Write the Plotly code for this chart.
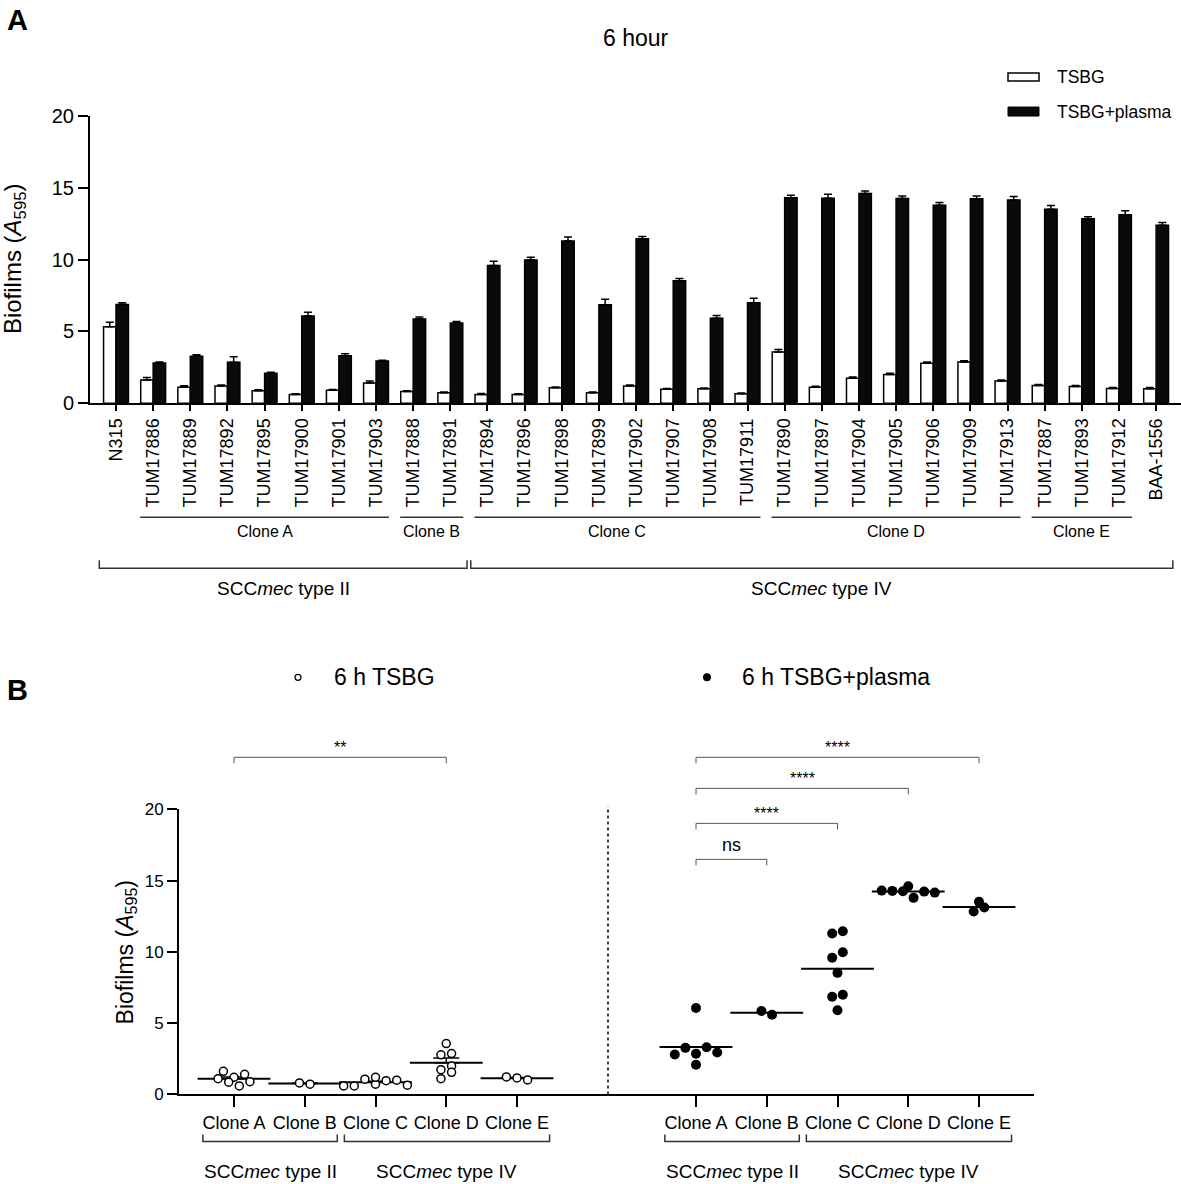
import numpy as np
import plotly.graph_objects as go

# ---------------- data ----------------
strains = ["N315", "TUM17886", "TUM17889", "TUM17892", "TUM17895", "TUM17900", "TUM17901",
           "TUM17903", "TUM17888", "TUM17891", "TUM17894", "TUM17896", "TUM17898", "TUM17899",
           "TUM17902", "TUM17907", "TUM17908", "TUM17911", "TUM17890", "TUM17897", "TUM17904",
           "TUM17905", "TUM17906", "TUM17909", "TUM17913", "TUM17887", "TUM17893", "TUM17912",
           "BAA-1556"]
strain_clone = ["", "Clone A", "Clone A", "Clone A", "Clone A", "Clone A", "Clone A",
                "Clone A", "Clone B", "Clone B", "Clone C", "Clone C", "Clone C", "Clone C",
                "Clone C", "Clone C", "Clone C", "Clone C", "Clone D", "Clone D", "Clone D",
                "Clone D", "Clone D", "Clone D", "Clone D", "Clone E", "Clone E", "Clone E", ""]
strain_scc = ["SCCmec type II"] * 10 + ["SCCmec type IV"] * 19

tsbg = [5.33, 1.62, 1.11, 1.20, 0.86, 0.60, 0.90, 1.41, 0.81, 0.72,
        0.60, 0.60, 1.07, 0.72, 1.20, 0.97, 1.00, 0.65,
        3.57, 1.11, 1.74, 1.99, 2.78, 2.87, 1.55,
        1.23, 1.16, 1.02, 1.00]
tsbg_err = [0.30, 0.16, 0.10, 0.07, 0.07, 0.05, 0.05, 0.14, 0.05, 0.05,
            0.07, 0.05, 0.05, 0.05, 0.07, 0.05, 0.05, 0.05,
            0.16, 0.07, 0.09, 0.09, 0.09, 0.09, 0.07,
            0.07, 0.07, 0.07, 0.09]
plasma = [6.88, 2.80, 3.27, 2.85, 2.09, 6.07, 3.31, 2.94, 5.86, 5.59,
          9.59, 9.97, 11.29, 6.86, 11.45, 8.53, 5.91, 7.00,
          14.30, 14.28, 14.60, 14.25, 13.79, 14.23, 14.16,
          13.51, 12.84, 13.12, 12.40]
plasma_err = [0.12, 0.07, 0.10, 0.39, 0.07, 0.26, 0.14, 0.05, 0.14, 0.09,
              0.30, 0.20, 0.28, 0.37, 0.16, 0.16, 0.20, 0.30,
              0.18, 0.28, 0.18, 0.18, 0.18, 0.20, 0.23,
              0.25, 0.14, 0.28, 0.18]

clones = ["Clone A", "Clone B", "Clone C", "Clone D", "Clone E"]
clone_scc = ["SCCmec type II", "SCCmec type II", "SCCmec type IV", "SCCmec type IV", "SCCmec type IV"]
y_ticks = [0, 5, 10, 15, 20]
# comparisons in panel B: (panel, clone1, clone2, label)
comparisons = [("TSBG", "Clone A", "Clone D", "**"),
               ("plasma", "Clone A", "Clone B", "ns"),
               ("plasma", "Clone A", "Clone C", "****"),
               ("plasma", "Clone A", "Clone D", "****"),
               ("plasma", "Clone A", "Clone E", "****")]

# ---------------- layout helpers (target pixel positions) ----------------
W, H = 1181, 1184
SY, OFF = 0.981, 11   # compensation for how the page is captured vertically
FONT = "Arial, Liberation Sans, sans-serif"
bracket_levels_px = [757, 859, 823, 788, 757]


def px(x):
    return x / W


def py(y):
    return 1 - ((y - OFF) / SY) / H


def swarm_offsets(vals, bin_h=0.6, step=0.15):
    vals = np.asarray(vals, dtype=float)
    order = np.argsort(vals, kind="stable")
    offs = np.zeros(len(vals))
    bins, cur = [], [order[0]]
    for i in order[1:]:
        if vals[i] - vals[cur[0]] < bin_h:
            cur.append(i)
        else:
            bins.append(cur)
            cur = [i]
    bins.append(cur)
    for b in bins:
        b = sorted(b)
        k = len(b)
        for j, i in enumerate(b):
            offs[i] = (j - (k - 1) / 2) * step
    return offs


fig = go.Figure()

# ---------------- panel A ----------------
fig.add_trace(go.Bar(
    x=strains, y=tsbg, name="TSBG", xaxis="x", yaxis="y",
    marker=dict(color="white", line=dict(color="black", width=1.5)),
    error_y=dict(type="data", array=tsbg_err, arrayminus=[0] * len(tsbg), symmetric=False,
                 color="black", thickness=1.5, width=4),
    showlegend=False))
fig.add_trace(go.Bar(
    x=strains, y=plasma, name="TSBG+plasma", xaxis="x", yaxis="y",
    marker=dict(color="#0a0a0a", line=dict(color="black", width=1.5)),
    error_y=dict(type="data", array=plasma_err, arrayminus=[0] * len(plasma), symmetric=False,
                 color="black", thickness=1.5, width=4),
    showlegend=False))

shapes = []
annotations = []

# clone group lines (panel A)
for c in clones:
    idx = [i for i, s in enumerate(strain_clone) if s == c]
    x0, x1 = min(idx) - 0.35, max(idx) + 0.35
    shapes.append(dict(type="line", xref="x", yref="paper", x0=x0, x1=x1,
                       y0=py(517), y1=py(517), line=dict(color="#333", width=1.5)))
    annotations.append(dict(xref="x", yref="paper", x=(x0 + x1) / 2, y=py(531), text=c,
                            showarrow=False, font=dict(size=16), xanchor="center", yanchor="middle"))
# SCCmec brackets (panel A)
for t in ["SCCmec type II", "SCCmec type IV"]:
    idx = [i for i, s in enumerate(strain_scc) if s == t]
    x0, x1 = min(idx) - 0.45, max(idx) + 0.45
    shapes.append(dict(type="path", xref="x", yref="paper",
                       path=f"M {x0},{py(560)} L {x0},{py(568)} L {x1},{py(568)} L {x1},{py(560)}",
                       line=dict(color="#333", width=1.5)))
    annotations.append(dict(xref="x", yref="paper", x=(x0 + x1) / 2, y=py(588),
                            text=t.replace("mec", "<i>mec</i>"), showarrow=False,
                            font=dict(size=19), xanchor="center", yanchor="middle"))

# legend panel A
shapes.append(dict(type="rect", xref="paper", yref="paper", x0=px(1008), x1=px(1039),
                   y0=py(81), y1=py(73), line=dict(color="black", width=1.5), fillcolor="white"))
shapes.append(dict(type="rect", xref="paper", yref="paper", x0=px(1008), x1=px(1039),
                   y0=py(116), y1=py(107), line=dict(color="black", width=1), fillcolor="#0a0a0a"))
annotations.append(dict(xref="paper", yref="paper", x=px(1055), y=py(77), text="TSBG",
                        showarrow=False, font=dict(size=17.5), xanchor="left", yanchor="middle"))
annotations.append(dict(xref="paper", yref="paper", x=px(1055), y=py(112), text="TSBG+plasma",
                        showarrow=False, font=dict(size=17.5), xanchor="left", yanchor="middle"))

annotations.append(dict(xref="paper", yref="paper", x=px(636), y=py(38), text="6 hour",
                        showarrow=False, font=dict(size=23), xanchor="center", yanchor="middle"))
annotations.append(dict(xref="paper", yref="paper", x=px(5), y=py(20), text="<b>A</b>",
                        showarrow=False, font=dict(size=29), xanchor="left", yanchor="middle"))
annotations.append(dict(xref="paper", yref="paper", x=px(5), y=py(690), text="<b>B</b>",
                        showarrow=False, font=dict(size=29), xanchor="left", yanchor="middle"))
ytitle = "Biofilms (<i>A</i><sub>595</sub>)"
annotations.append(dict(xref="paper", yref="paper", x=px(14), y=py(259), text=ytitle,
                        textangle=-90, showarrow=False, font=dict(size=24),
                        xanchor="center", yanchor="middle"))

# ---------------- panel B ----------------
clone_pos = {c: i for i, c in enumerate(clones)}
sides = [("TSBG", tsbg, "x2", "y2", dict(symbol="circle", size=8, color="white",
                                           line=dict(color="black", width=1.5)), True),
         ("plasma", plasma, "x3", "y3", dict(symbol="circle", size=10, color="black",
                                             line=dict(color="black", width=0)), False)]
for name, vals, xa, ya, mk, show_sem in sides:
    xs, ys, mx, my, ms = [], [], [], [], []
    for c in clones:
        v = [vals[i] for i, s in enumerate(strain_clone) if s == c]
        offs = swarm_offsets(v)
        xs += list(clone_pos[c] + offs)
        ys += v
        mx.append(clone_pos[c])
        my.append(float(np.mean(v)))
        ms.append(float(np.std(v, ddof=1) / np.sqrt(len(v))))
    err = dict(type="data", array=ms, arrayminus=[0] * len(ms), symmetric=False,
               color="black", thickness=1.5, width=13, visible=show_sem)
    fig.add_trace(go.Scatter(x=mx, y=my, xaxis=xa, yaxis=ya, mode="markers", showlegend=False,
                             marker=dict(symbol="line-ew", size=52, color="black",
                                         line=dict(color="black", width=2)),
                             error_y=err, cliponaxis=False))
    fig.add_trace(go.Scatter(x=xs, y=ys, xaxis=xa, yaxis=ya, mode="markers", showlegend=False,
                             marker=mk, cliponaxis=False))

    # SCCmec brackets below axis
    for t in ["SCCmec type II", "SCCmec type IV"]:
        idx = [clone_pos[c] for c, s in zip(clones, clone_scc) if s == t]
        x0, x1 = min(idx) - 0.44, max(idx) + 0.46
        shapes.append(dict(type="path", xref=xa, yref="paper",
                           path=f"M {x0},{py(1134)} L {x0},{py(1141)} L {x1},{py(1141)} L {x1},{py(1134)}",
                           line=dict(color="#333", width=1.5)))
        annotations.append(dict(xref=xa, yref="paper", x=(x0 + x1) / 2, y=py(1171),
                                text=t.replace("mec", "<i>mec</i>"), showarrow=False,
                                font=dict(size=19), xanchor="center", yanchor="middle"))

# significance brackets
for (panel, c1, c2, lab), yt in zip(comparisons, bracket_levels_px):
    xa = "x2" if panel == "TSBG" else "x3"
    a, b = clone_pos[c1], clone_pos[c2]
    shapes.append(dict(type="path", xref=xa, yref="paper",
                       path=f"M {a},{py(yt + 6)} L {a},{py(yt)} L {b},{py(yt)} L {b},{py(yt + 6)}",
                       line=dict(color="#555", width=1)))
    if lab == "ns":
        annotations.append(dict(xref=xa, yref="paper", x=(a + b) / 2, y=py(yt - 14), text=lab,
                                showarrow=False, font=dict(size=18), xanchor="center", yanchor="middle"))
    else:
        annotations.append(dict(xref=xa, yref="paper", x=(a + b) / 2, y=py(yt - 10), text=lab,
                                showarrow=False, font=dict(size=16), xanchor="center", yanchor="middle"))

# dotted separator
shapes.append(dict(type="line", xref="paper", yref="paper", x0=px(608), x1=px(608),
                   y0=py(1094), y1=py(806), line=dict(color="black", width=1.5, dash="dot")))

# panel B header legend
shapes.append(dict(type="circle", xref="paper", yref="paper", xsizemode="pixel", ysizemode="pixel",
                   xanchor=px(298), yanchor=py(677), x0=-3, x1=3, y0=-3, y1=3,
                   line=dict(color="black", width=1.2), fillcolor="white"))
shapes.append(dict(type="circle", xref="paper", yref="paper", xsizemode="pixel", ysizemode="pixel",
                   xanchor=px(707), yanchor=py(677), x0=-4, x1=4, y0=-4, y1=4,
                   line=dict(color="black", width=0), fillcolor="black"))
annotations.append(dict(xref="paper", yref="paper", x=px(332), y=py(677), text="6 h TSBG",
                        showarrow=False, font=dict(size=23), xanchor="left", yanchor="middle"))
annotations.append(dict(xref="paper", yref="paper", x=px(740), y=py(677), text="6 h TSBG+plasma",
                        showarrow=False, font=dict(size=23), xanchor="left", yanchor="middle"))
annotations.append(dict(xref="paper", yref="paper", x=px(126), y=py(952), text=ytitle,
                        textangle=-90, showarrow=False, font=dict(size=23),
                        xanchor="center", yanchor="middle"))

# ---------------- layout ----------------
axis_common = dict(showline=True, linecolor="black", linewidth=2, showgrid=False, zeroline=False,
                   ticks="outside", tickcolor="black", tickwidth=1.5)
pxB = 70.75
fig.update_layout(
    width=W, height=H, margin=dict(l=0, r=0, t=0, b=0),
    paper_bgcolor="white", plot_bgcolor="white",
    font=dict(family=FONT, color="black"),
    barmode="group", bargap=0.33, bargroupgap=0,
    xaxis=dict(axis_common, domain=[px(90), 1.0], anchor="y", type="category",
               range=[-0.7, 28.67], tickangle=-90, ticklen=6, tickfont=dict(size=18)),
    yaxis=dict(axis_common, domain=[py(403), py(116)], anchor="x", range=[0, 20],
               tickvals=y_ticks, ticklen=10, tickfont=dict(size=20)),
    xaxis2=dict(axis_common, domain=[px(179), px(608)], anchor="y2",
                range=[(179 - 234) / pxB, (608 - 234) / pxB],
                tickvals=list(range(len(clones))), ticktext=clones, ticklen=11,
                tickfont=dict(size=18)),
    yaxis2=dict(axis_common, domain=[py(1094), py(809)], anchor="x2", range=[0, 20],
                tickvals=y_ticks, ticklen=10, tickfont=dict(size=17)),
    xaxis3=dict(axis_common, domain=[px(608), px(1034)], anchor="y3",
                range=[(608 - 696) / pxB, (1034 - 696) / pxB],
                tickvals=list(range(len(clones))), ticktext=clones, ticklen=11,
                tickfont=dict(size=18)),
    yaxis3=dict(domain=[py(1094), py(809)], anchor="x3", range=[0, 20], showline=False,
                showgrid=False, zeroline=False, showticklabels=False, ticks=""),
    shapes=shapes, annotations=annotations,
)

fig.write_html("out.html", config={"displayModeBar": False},
               post_script="document.body.style.margin='0';")
